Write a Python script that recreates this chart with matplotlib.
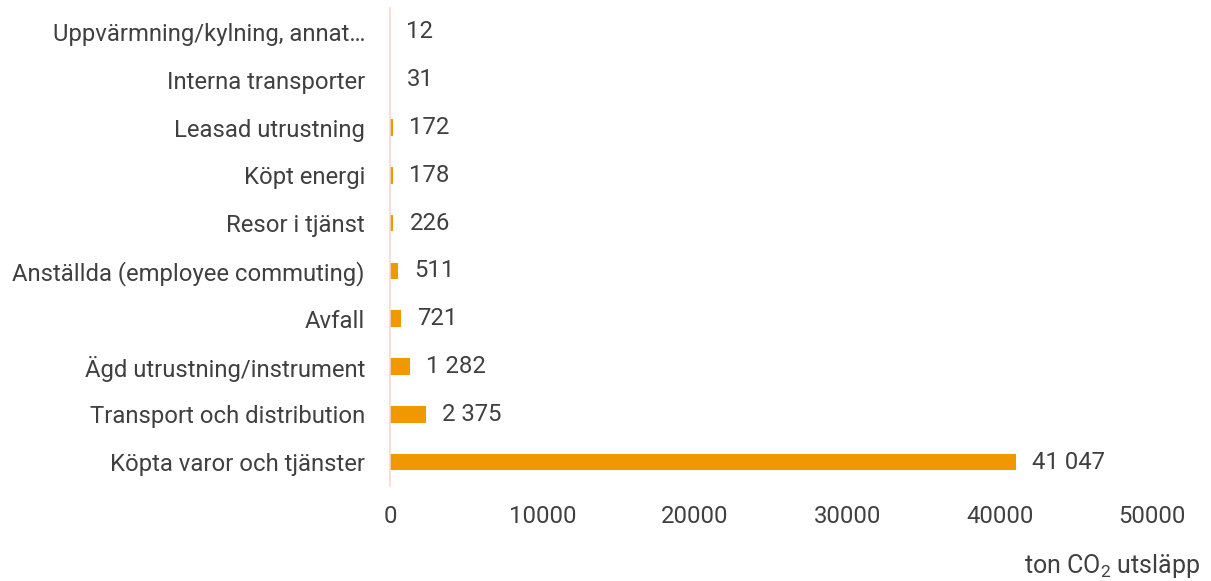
import matplotlib.pyplot as plt

plt.rcParams['font.family'] = ['Roboto', 'DejaVu Sans']
plt.rcParams['mathtext.fontset'] = 'custom'
plt.rcParams['mathtext.rm'] = 'Roboto'
plt.rcParams['mathtext.it'] = 'Roboto'

categories = [
    "Köpta varor och tjänster",
    "Transport och distribution",
    "Ägd utrustning/instrument",
    "Avfall",
    "Anställda (employee commuting)",
    "Resor i tjänst",
    "Köpt energi",
    "Leasad utrustning",
    "Interna transporter",
    "Uppvärmning/kylning, annat…",
]
values = [41047, 2375, 1282, 721, 511, 226, 178, 172, 31, 12]
xticks = [0, 10000, 20000, 30000, 40000, 50000]

text_col = "#404040"
bar_col = "#F09800"

fig = plt.figure(figsize=(12.11, 5.81), dpi=100)
ax = fig.add_axes([390 / 1211, 1 - 486 / 581, (1152 - 390) / 1211, (486 - 8) / 581])

y = list(range(len(categories)))
ax.barh(y, values, height=0.35, color=bar_col)

# value labels with space as thousands separator
for yi, v in zip(y, values):
    lab = f"{v:,}".replace(",", " ")
    ax.annotate(lab, (v, yi), xytext=(16, 0), textcoords="offset pixels",
                ha="left", va="center", fontsize=17.2, color=text_col)

ax.set_xlim(0, 50000)
ax.set_ylim(-0.5, len(categories) - 0.5)
ax.set_xticks(xticks)
ax.set_xticklabels([str(t) for t in xticks])
ax.set_yticks(y)
ax.set_yticklabels(categories)
ax.tick_params(axis="both", length=0, labelsize=17.2, colors=text_col)
ax.tick_params(axis="y", pad=18)
ax.tick_params(axis="x", pad=14)

for s in ["top", "right", "bottom"]:
    ax.spines[s].set_visible(False)
ax.spines["left"].set_color("#F6D8CF")
ax.spines["left"].set_linewidth(1.2)

fig.text(1200 / 1211, 1 - 566 / 581, "ton CO$_2$ utsläpp", ha="right", va="center",
         fontsize=18, color=text_col)

fig.savefig("out.png", dpi=100)
